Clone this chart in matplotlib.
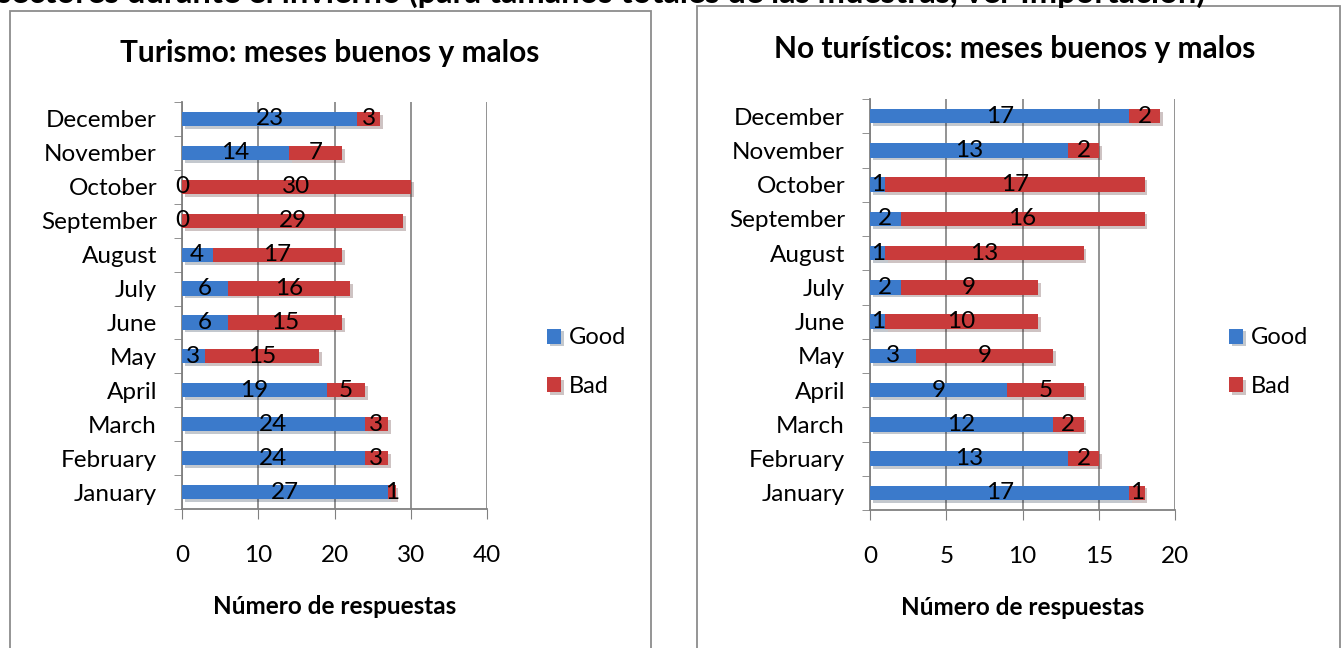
import numpy as np
import matplotlib
matplotlib.use("Agg")
from matplotlib import pyplot as plt
from matplotlib import patheffects as pe
from matplotlib.patches import Rectangle
from matplotlib.ticker import FixedLocator

plt.rcParams['font.family'] = ['Lato', 'DejaVu Sans']

months = ['January', 'February', 'March', 'April', 'May', 'June', 'July',
          'August', 'September', 'October', 'November', 'December']

# Turismo
tur_good = [27, 24, 24, 19, 3, 6, 6, 4, 0, 0, 14, 23]
tur_bad = [1, 3, 3, 5, 15, 15, 16, 17, 29, 30, 7, 3]

# No turisticos
nt_good = [17, 13, 12, 9, 3, 1, 2, 1, 2, 1, 13, 17]
nt_bad = [1, 2, 2, 5, 9, 10, 9, 13, 16, 17, 2, 2]

BLUE = '#3b7acb'
RED = '#c93b3b'
W, H = 1341, 648

fig = plt.figure(figsize=(W / 100, H / 100), dpi=100)


def px(x0, y0, x1, y1):
    return [x0 / W, 1 - y1 / H, (x1 - x0) / W, (y1 - y0) / H]


# panel frames
for x0, y0, x1 in [(10, 11, 651), (697, 6, 1340)]:
    fig.patches.append(Rectangle((x0 / W, -0.01), (x1 - x0) / W, 1 - y0 / H + 0.01,
                                 transform=fig.transFigure, fill=False,
                                 edgecolor='#8c8c8c', linewidth=1.3))

# heading that is cut off by the top edge (only its lower strokes show)
fig.text(-0.002, 1 - 2.5 / H,
         'sectores durante el invierno (para tamaños totales de las muestras, ver Importación)',
         fontsize=23.5, fontweight='bold', va='baseline', ha='left')


def panel(rect, good, bad, xmax, step, title, title_xy, leg_x):
    ax = fig.add_axes(px(*rect))
    y = np.arange(len(months))
    shadow = [pe.SimplePatchShadow(offset=(2, -2), alpha=0.25), pe.Normal()]
    b1 = ax.barh(y, good, height=0.42, color=BLUE, label='Good', zorder=3,
                 path_effects=shadow)
    b2 = ax.barh(y, bad, left=good, height=0.42, color=RED, label='Bad', zorder=3,
                 path_effects=shadow)
    ax.bar_label(b1, label_type='center', fontsize=17.5, zorder=5)
    ax.bar_label(b2, label_type='center', fontsize=17.5, zorder=5)
    ax.set_xlim(0, xmax)
    ax.set_ylim(-0.5, len(months) - 0.5)
    ax.set_xticks(np.arange(0, xmax + 1, step))
    ax.tick_params(axis='x', labelsize=17.5, pad=19, length=7, color='#808080', direction='out')
    ax.set_yticks(y)
    ax.set_yticklabels(months, fontsize=17.5)
    ax.tick_params(axis='y', which='major', length=0, pad=18)
    ax.yaxis.set_minor_locator(FixedLocator(np.arange(-0.5, len(months), 1)))
    ax.tick_params(axis='y', which='minor', length=6, color='#808080')
    ax.xaxis.grid(True, color='#8a8a8a', linewidth=1.3, zorder=0)
    ax.set_axisbelow(True)
    for s in ['top', 'right']:
        ax.spines[s].set_visible(False)
    for s in ['left', 'bottom']:
        ax.spines[s].set_color('#808080')
        ax.spines[s].set_linewidth(1.3)
    ax.set_xlabel('Número de respuestas', fontsize=17.5, fontweight='bold', labelpad=21)
    fig.text(title_xy[0] / W, 1 - title_xy[1] / H, title, fontsize=21.5,
             fontweight='bold', ha='center', va='center')
    fig.legend(handles=[b1, b2], loc='center left',
               bbox_to_anchor=(leg_x / W, 1 - 362 / H), frameon=False,
               fontsize=17, handlelength=0.6, handleheight=0.6,
               handletextpad=0.3, labelspacing=1.15)
    return ax


panel((182, 102, 487, 509), tur_good, tur_bad, 40, 10,
      'Turismo: meses buenos y malos', (330, 53), 526)
panel((870, 99, 1175, 510), nt_good, nt_bad, 20, 5,
      'No turísticos: meses buenos y malos', (1015, 49), 1208)

fig.savefig('out.png', dpi=100)
